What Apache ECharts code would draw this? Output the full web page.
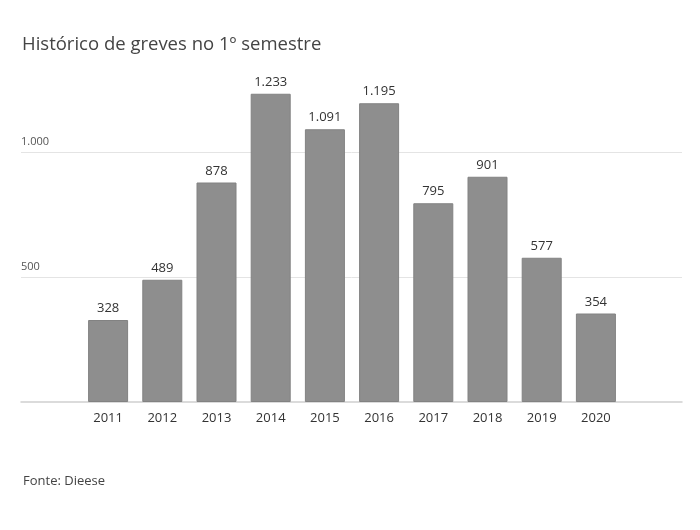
<!DOCTYPE html>
<html>

<head>
  <meta charset="utf-8">
  <title>Histórico de greves</title>
  <script src="https://cdn.jsdelivr.net/npm/echarts@6/dist/echarts.min.js"></script>
</head>

<body style="margin:0">
  <div id="main" style="width:700px;height:530px"></div>
  <script type="text/javascript">
    var years = ['2011', '2012', '2013', '2014', '2015', '2016', '2017', '2018', '2019', '2020'];
    var strikes = [328, 489, 878, 1233, 1091, 1195, 795, 901, 577, 354];
    var yTicks = [500, 1000];

    var myChart = echarts.init(document.getElementById('main'));

    function fmt(v) {
      return String(v).replace(/\B(?=(\d{3})+(?!\d))/g, '.');
    }

    var font = "'Open Sans', 'Noto Sans', sans-serif";
    var yMax = 1300;

    var option = {
      backgroundColor: '#fff',
      textStyle: { fontFamily: font },
      title: [
        {
          text: 'Histórico de greves no 1º semestre',
          left: 17,
          top: 30,
          textStyle: { fontFamily: font, fontSize: 18.5, fontWeight: 'normal', color: '#444' }
        },
        {
          text: 'Fonte: Dieese',
          left: 18,
          top: 470,
          textStyle: { fontFamily: font, fontSize: 13, fontWeight: 'normal', color: '#444' }
        }
      ],
      grid: [
        { left: 21, right: 18, top: 77, bottom: 128 },
        { left: 81, right: 77, top: 77, bottom: 128 }
      ],
      xAxis: [
        {
          gridIndex: 0,
          type: 'category',
          data: [''],
          axisLine: { lineStyle: { color: '#cfcfcf', width: 1.5 } },
          axisTick: { show: false },
          axisLabel: { show: false }
        },
        {
          gridIndex: 1,
          type: 'category',
          data: years,
          axisLine: { show: false },
          axisTick: { show: false },
          axisLabel: { margin: 10, fontSize: 13, color: '#333', fontFamily: font }
        }
      ],
      yAxis: [
        {
          gridIndex: 0,
          type: 'value',
          min: 0,
          max: yMax,
          interval: 500,
          axisLine: { show: false },
          axisTick: { show: false },
          axisLabel: {
            inside: true,
            margin: 0,
            verticalAlign: 'bottom',
            padding: [0, 0, 5, 0],
            fontSize: 11,
            color: '#555',
            fontFamily: font,
            formatter: function (v) {
              return yTicks.indexOf(v) >= 0 ? fmt(v) : '';
            }
          },
          splitLine: {
            lineStyle: { color: ['rgba(0,0,0,0)', '#e4e4e4', '#e4e4e4', 'rgba(0,0,0,0)'], width: 1 }
          }
        },
        {
          gridIndex: 1,
          type: 'value',
          min: 0,
          max: yMax,
          interval: 500,
          show: false
        }
      ],
      series: [
        {
          type: 'bar',
          xAxisIndex: 1,
          yAxisIndex: 1,
          data: strikes,
          barWidth: 40,
          itemStyle: { color: '#8e8e8e', borderColor: '#828282', borderWidth: 1 },
          label: {
            show: true,
            position: 'top',
            distance: 5,
            fontSize: 13,
            color: '#333',
            fontFamily: font,
            formatter: function (p) { return fmt(p.value); }
          }
        }
      ]
    };

    myChart.setOption(option);
  </script>
</body>

</html>
